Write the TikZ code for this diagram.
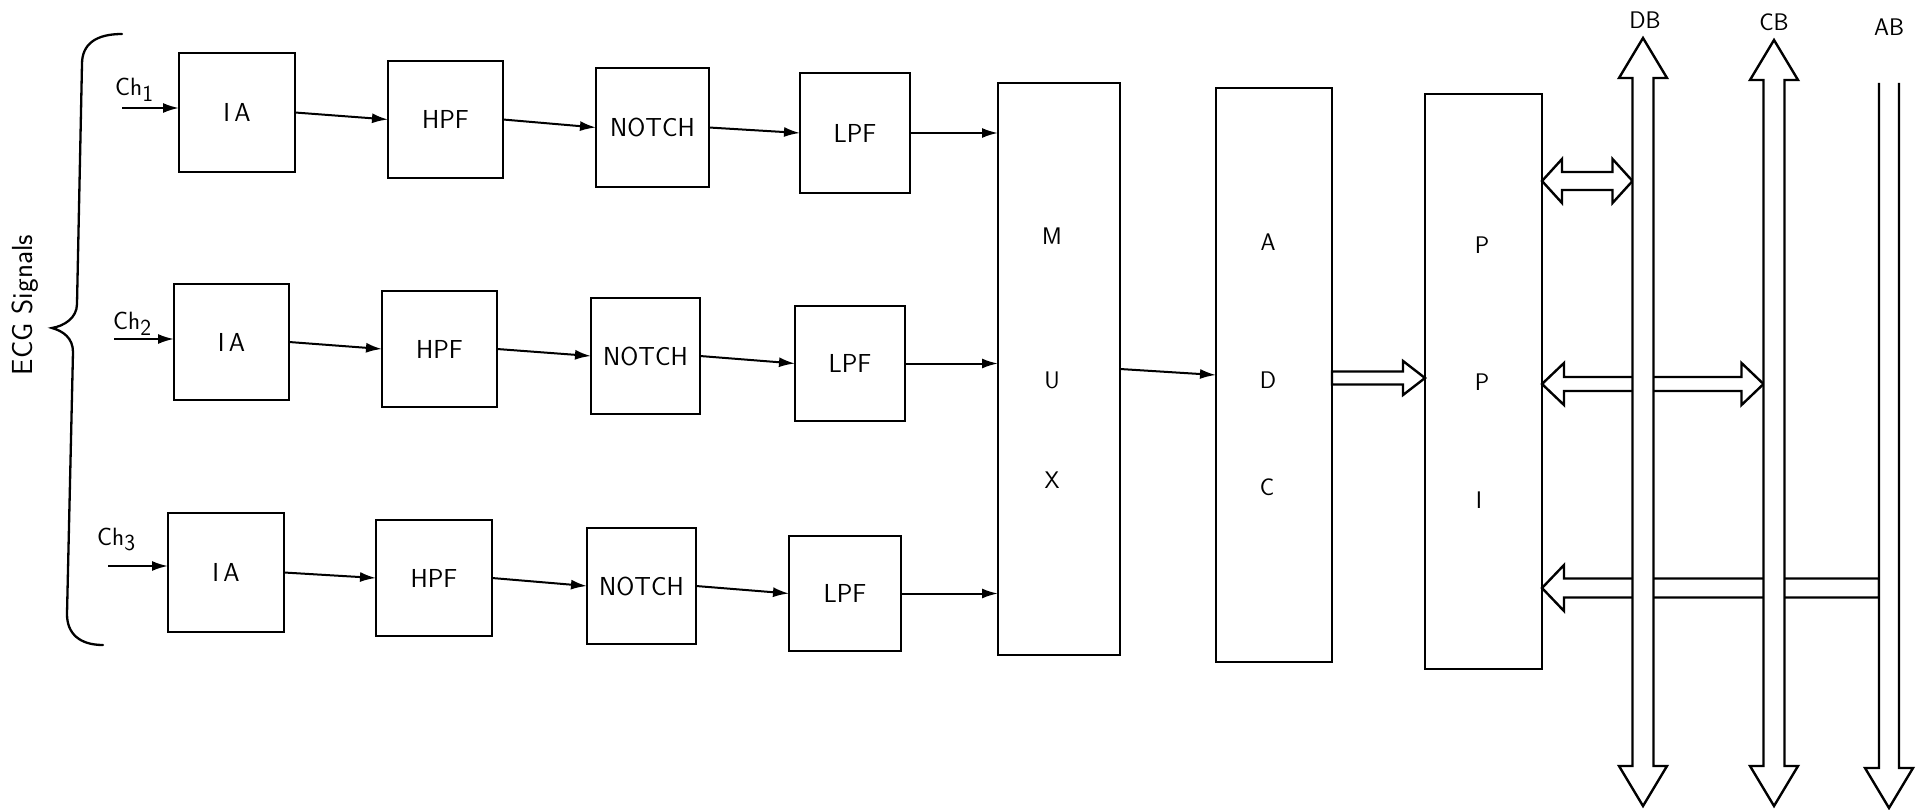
\documentclass[tikz,border=0pt]{standalone}
\usetikzlibrary{arrows.meta,calc}
% block: name, x1, x2, y1, y2, text
\newcommand\blk[6]{\node[blk, minimum width={#3-#2}, minimum height={#5-#4}] (#1) at ({(#2+#3)/2},{(#4+#5)/2}) {#6};}
% double-headed horizontal hollow arrow: xl, xr, y, shaft half, head half, head length
\newcommand\fatLR[6]{\draw[bus] (#1,#3) -- (#1+#6,#3-#5) -- (#1+#6,#3-#4) -- (#2-#6,#3-#4) -- (#2-#6,#3-#5) -- (#2,#3) -- (#2-#6,#3+#5) -- (#2-#6,#3+#4) -- (#1+#6,#3+#4) -- (#1+#6,#3+#5) -- cycle;}
% hollow arrow, head on the left
\newcommand\fatL[6]{\draw[bus] (#1,#3) -- (#1+#6,#3-#5) -- (#1+#6,#3-#4) -- (#2,#3-#4) -- (#2,#3+#4) -- (#1+#6,#3+#4) -- (#1+#6,#3+#5) -- cycle;}
% hollow arrow, head on the right
\newcommand\fatR[6]{\draw[bus] (#2,#3) -- (#2-#6,#3-#5) -- (#2-#6,#3-#4) -- (#1,#3-#4) -- (#1,#3+#4) -- (#2-#6,#3+#4) -- (#2-#6,#3+#5) -- cycle;}
% vertical double-headed bus: x, ytop, ybot, shaft half, head half, head length
\newcommand\vbus[6]{\draw[bus] (#1,#2) -- (#1+#5,#2+#6) -- (#1+#4,#2+#6) -- (#1+#4,#3-#6) -- (#1+#5,#3-#6) -- (#1,#3) -- (#1-#5,#3-#6) -- (#1-#4,#3-#6) -- (#1-#4,#2+#6) -- (#1-#5,#2+#6) -- cycle;}
\newcommand\chsub[1]{\raisebox{-0.5ex}{\fontsize{23}{23}\selectfont #1}}
\begin{document}
\begin{tikzpicture}[x=1pt,y=-1pt,
  blk/.style={draw, line width=2.3pt, inner sep=0pt, outer sep=0pt, font=\sffamily\fontsize{26}{28}\selectfont},
  sig/.style={line width=2pt, -{Latex[length=16pt,width=10pt]}},
  lbl/.style={font=\sffamily\fontsize{24}{26}\selectfont, inner sep=0pt},
  chl/.style={font=\sffamily\fontsize{25}{27}\selectfont, inner sep=0pt, anchor=base west},
  bus/.style={draw, line width=2.4pt, fill=white, line join=miter},
  brace/.style={line width=2.3pt, line cap=round},
]
\useasboundingbox (0,0) rectangle (1920,810);

% row 1
\blk{IA1}{179}{295}{53}{172}{I\,A}
\blk{HPF1}{388}{503}{61}{178}{HPF}
\blk{NOTCH1}{596}{709}{68}{187}{NOTCH}
\blk{LPF1}{800}{910}{73}{193}{LPF}
% row 2
\blk{IA2}{174}{289}{284}{400}{I\,A}
\blk{HPF2}{382}{497}{291}{407}{HPF}
\blk{NOTCH2}{591}{700}{298}{414}{NOTCH}
\blk{LPF2}{795}{905}{306}{421}{LPF}
% row 3
\blk{IA3}{168}{284}{513}{632}{I\,A}
\blk{HPF3}{376}{492}{520}{636}{HPF}
\blk{NOTCH3}{587}{696}{528}{644}{NOTCH}
\blk{LPF3}{789}{901}{536}{651}{LPF}
% tall blocks
\blk{MUX}{998}{1120}{83}{655}{}
\blk{ADC}{1216}{1332}{88}{662}{}
\blk{PPI}{1425}{1542}{94}{669}{}

\node[lbl] (mM) at (1052,236) {M};
\node[lbl] (mU) at (1052,380) {U};
\node[lbl] (mX) at (1052,480) {X};
\node[lbl] (aA) at (1268,242) {A};
\node[lbl] (aD) at (1268,380) {D};
\node[lbl] (aC) at (1267,487) {C};
\node[lbl] (pP1) at (1482,245) {P};
\node[lbl] (pP2) at (1482,382) {P};
\node[lbl] (pI) at (1479,500) {I};

% channel inputs
\node[chl] (ch1) at (115,96) {Ch\chsub{1}};
\node[chl] (ch2) at (113,330) {Ch\chsub{2}};
\node[chl] (ch3) at (97,545) {Ch\chsub{3}};
\coordinate (in1) at (122,108);
\coordinate (in2) at (114,339);
\coordinate (in3) at (108,566);
\draw[sig] (in1) -- (in1 -| IA1.west);
\draw[sig] (in2) -- (in2 -| IA2.west);
\draw[sig] (in3) -- (in3 -| IA3.west);

% chains
\foreach \r in {1,2,3}{
  \draw[sig] (IA\r.east) -- (HPF\r.west);
  \draw[sig] (HPF\r.east) -- (NOTCH\r.west);
  \draw[sig] (NOTCH\r.east) -- (LPF\r.west);
  \draw[sig] (LPF\r.east) -- (LPF\r.east -| MUX.west);
}
\draw[sig] (MUX.east) -- (ADC.west);

% brace and label
\draw[brace] (122,34) .. controls (96,34) and (82,44) .. (82,64) -- (77,304)
  .. controls (77,318) and (64,326) .. (52,328)
  .. controls (63,331) and (73,338) .. (73,352) -- (67,614)
  .. controls (67,634) and (80,645) .. (103,645);
\node[rotate=90, font=\sffamily\fontsize{29}{31}\selectfont, inner sep=0pt] (ecg) at (25,305) {ECG Signals};

% hollow arrows
\fatR{1332}{1425}{378}{6.5}{17}{22}
\fatLR{1542}{1632.5}{181}{9}{22}{20}
\fatLR{1542}{1763.5}{384}{7}{21}{22}
\fatL{1542}{1879}{588}{9.5}{23}{22}

% buses
\vbus{1643}{38}{806}{10.5}{24}{40}
\vbus{1774}{40}{806}{10.5}{24}{40}
\draw[bus] (1879,83) -- (1879,768) -- (1865,768) -- (1889,808) -- (1913,768) -- (1899,768) -- (1899,83);

\node[lbl] (DB) at (1645,20) {DB};
\node[lbl] (CB) at (1774,22) {CB};
\node[lbl] (AB) at (1889,27) {AB};
\end{tikzpicture}
\end{document}
